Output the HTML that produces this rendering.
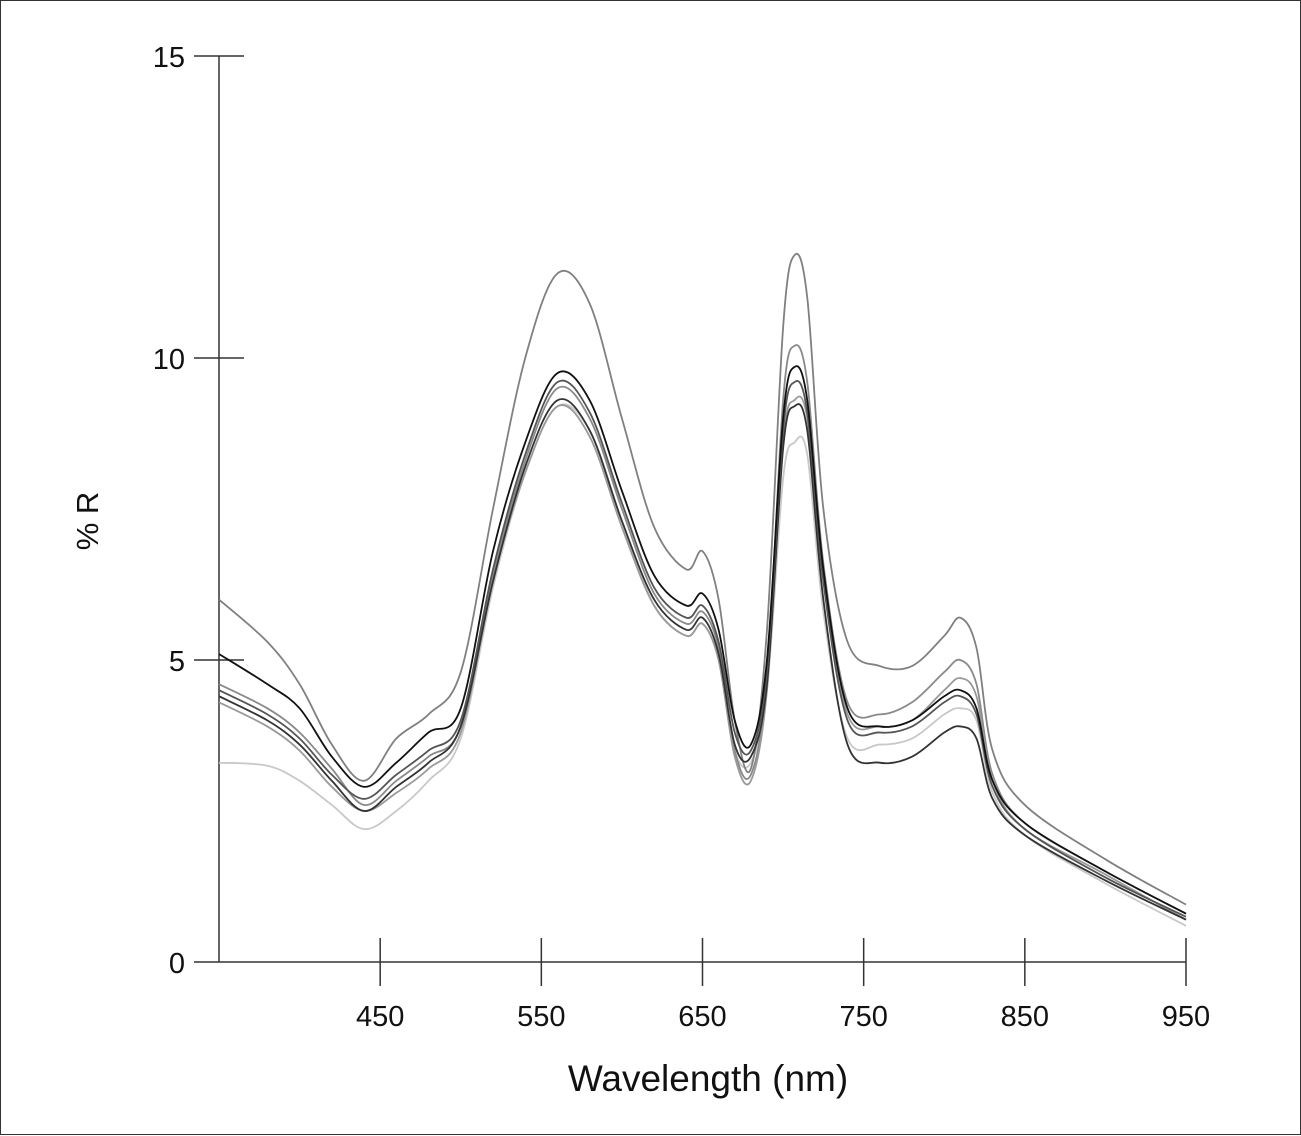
<!DOCTYPE html>
<html><head><meta charset="utf-8">
<style>
html,body{margin:0;padding:0;background:#fff;}
#wrap{position:relative;width:1301px;height:1135px;box-sizing:border-box;border:1.5px solid #333;}
svg{position:absolute;left:0;top:0;}
text{font-family:"Liberation Sans",Arial,sans-serif;fill:#111;}
</style></head>
<body>
<div id="wrap">
<svg id="chart" width="1301" height="1135"></svg>
</div>
<script>
const wavelengths=[350,380,400,420,440,460,480,500,520,540,560,580,600,620,640,650,660,670,680,690,700,707,715,725,740,760,780,800,810,820,830,850,900,950];
const seriesA=[6.0,5.3,4.6,3.6,3.0,3.7,4.1,4.8,7.5,10.0,11.4,10.9,9.0,7.2,6.5,6.8,6.0,4.0,3.2,5.5,10.5,11.7,11.0,7.5,5.3,4.9,4.9,5.4,5.7,5.2,3.5,2.6,1.7,0.95];
const seriesB=[5.1,4.6,4.2,3.4,2.9,3.3,3.8,4.2,6.8,8.6,9.75,9.3,7.8,6.4,5.9,6.1,5.5,4.0,3.6,5.0,9.0,9.85,9.3,6.5,4.2,3.9,4.0,4.4,4.5,4.2,3.0,2.3,1.5,0.8];
const seriesC=[4.5,4.1,3.7,3.1,2.7,3.1,3.5,4.0,6.5,8.4,9.6,9.1,7.6,6.2,5.7,5.9,5.3,3.8,3.5,4.8,8.8,9.6,9.1,6.3,4.0,3.8,3.9,4.3,4.4,4.1,2.9,2.2,1.4,0.75];
const seriesD=[4.4,4.0,3.6,3.0,2.5,2.9,3.3,3.9,6.3,8.2,9.3,8.8,7.3,6.0,5.5,5.7,5.1,3.6,3.4,4.6,8.5,9.2,8.8,6.0,3.6,3.3,3.4,3.8,3.9,3.7,2.7,2.1,1.35,0.7];
const seriesE=[4.6,4.2,3.8,3.2,2.6,3.0,3.4,3.9,6.4,8.3,9.5,9.0,7.5,6.1,5.6,5.8,5.2,3.5,3.1,4.7,9.3,10.2,9.6,6.6,4.3,4.1,4.3,4.8,5.0,4.6,3.1,2.3,1.5,0.8];
const seriesF=[3.3,3.25,3.0,2.6,2.2,2.5,3.0,3.7,6.2,8.1,9.2,8.8,7.3,5.9,5.4,5.6,5.0,3.5,3.3,4.5,8.0,8.6,8.4,5.8,3.7,3.6,3.7,4.1,4.2,4.0,2.8,2.1,1.3,0.6];
const seriesG=[4.3,3.9,3.5,2.9,2.5,2.8,3.2,3.8,6.3,8.1,9.2,8.7,7.2,5.9,5.4,5.6,5.0,3.4,3.0,4.5,8.6,9.3,9.0,6.4,4.1,3.9,4.0,4.5,4.7,4.4,3.0,2.2,1.45,0.7];
const xTicks=[450,550,650,750,850,950];
const yTicks=[0,5,10,15];

const NS="http://www.w3.org/2000/svg";
const svg=document.getElementById('chart');
const X=w=>218+(w-350)*(1185-218)/600;
const Y=v=>961-v*(961-55)/15;
function mk(tag,attrs){const e=document.createElementNS(NS,tag);for(const k in attrs)e.setAttribute(k,attrs[k]);svg.appendChild(e);return e;}

let ax=mk('line',{x1:218,y1:55,x2:218,y2:961,stroke:'#333','stroke-width':1.5});


ax=mk('line',{x1:218,y1:961,x2:1185,y2:961,stroke:'#333','stroke-width':1.5});



yTicks.forEach(v=>{
  const t=mk('line',{x1:193,y1:Y(v),x2:243,y2:Y(v),stroke:'#333','stroke-width':1.5});
  if(v===0)t.setAttribute('x2',218);
  
  
  const l=mk('text',{x:184,y:Y(v)+11,'font-size':29,'text-anchor':'end'});
  l.textContent=v;
  
  
});
xTicks.forEach(w=>{
  const t=mk('line',{x1:X(w),y1:937,x2:X(w),y2:985,stroke:'#333','stroke-width':1.5});
  
  
  const l=mk('text',{x:X(w),y:1025,'font-size':29,'text-anchor':'middle'});
  l.textContent=w;
  
  
});
let tt=mk('text',{x:707,y:1090,'font-size':37,'text-anchor':'middle'});
tt.textContent='Wavelength (nm)';


tt=mk('text',{x:0,y:0,'font-size':31,'text-anchor':'middle',transform:'translate(97,520) rotate(-90)'});
tt.textContent='% R';



function pathFor(vals){
  const p=wavelengths.map((w,i)=>[X(w),Y(vals[i])]);
  let d='M'+p[0][0]+','+p[0][1];
  for(let i=0;i<p.length-1;i++){
    const p0=p[Math.max(0,i-1)],p1=p[i],p2=p[i+1],p3=p[Math.min(p.length-1,i+2)];
    const c1x=p1[0]+(p2[0]-p0[0])/6,c1y=p1[1]+(p2[1]-p0[1])/6;
    const c2x=p2[0]-(p3[0]-p1[0])/6,c2y=p2[1]-(p3[1]-p1[1])/6;
    d+=' C'+c1x+','+c1y+' '+c2x+','+c2y+' '+p2[0]+','+p2[1];
  }
  return d;
}
const series=[[seriesF,'#c8c8c8','series-f'],[seriesA,'#808080','series-a'],[seriesE,'#8a8a8a','series-e'],[seriesG,'#999','series-g'],[seriesD,'#333','series-d'],[seriesC,'#555','series-c'],[seriesB,'#111','series-b']];
series.forEach(s=>{
  const e=mk('path',{d:pathFor(s[0]),fill:'none',stroke:s[1],'stroke-width':1.8});
  
  
});
</script>
</body></html>
